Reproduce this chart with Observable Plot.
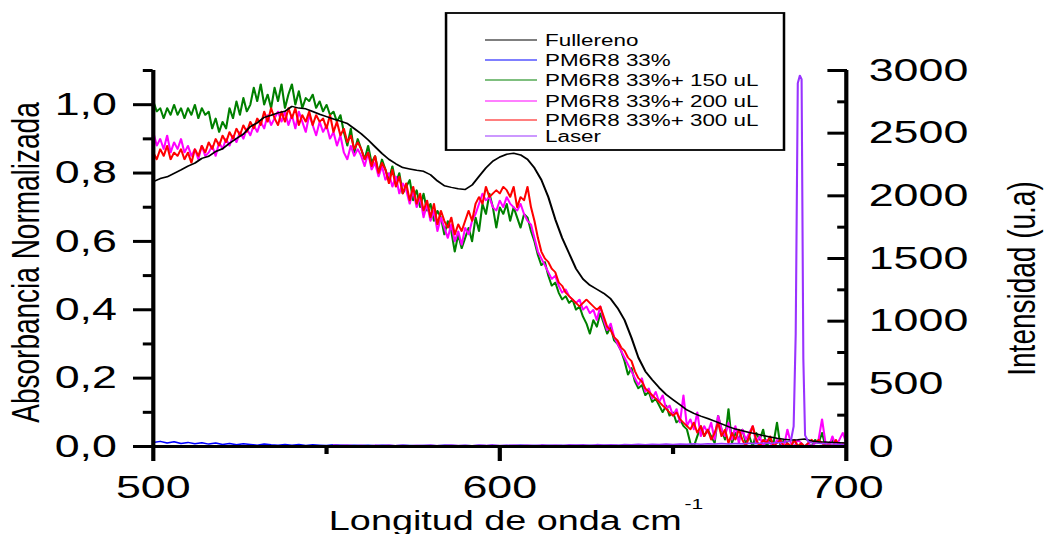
<!DOCTYPE html>
<html>
<head>
<meta charset="utf-8">
<script src="https://cdn.jsdelivr.net/npm/d3@7"></script>
<script src="https://cdn.jsdelivr.net/npm/@observablehq/plot@0.6"></script>
<style>
  html, body { margin: 0; padding: 0; background: #fff; overflow: hidden; }
  /* the figure is laid out narrow and widened horizontally, like the exported graph */
  #chart { width: 748px; height: 534px; transform: scaleX(1.4); transform-origin: 0 0; }
</style>
</head>
<body>
<div id="chart"></div>
<script>
// Wavelength grids (nm): 1 nm for the noisy absorbance spectra, 2 nm for the smooth ones
const wl1 = d3.range(500, 701);
const wl2 = d3.range(500, 701, 2);

// Fullereno (normalised absorbance), 500..700 step 2
const fullereno = [
  0.775,0.784,0.789,0.799,0.809,0.820,0.829,0.843,0.849,0.863,
  0.871,0.887,0.901,0.914,0.936,0.947,0.963,0.969,0.976,0.981,
  0.995,0.990,0.988,0.980,0.972,0.965,0.958,0.952,0.945,0.930,
  0.915,0.897,0.877,0.857,0.840,0.827,0.816,0.812,0.808,0.805,
  0.795,0.777,0.763,0.758,0.754,0.752,0.765,0.790,0.815,0.835,
  0.847,0.855,0.858,0.853,0.840,0.815,0.780,0.730,0.665,0.610,
  0.565,0.520,0.490,0.472,0.460,0.448,0.432,0.405,0.370,0.318,
  0.260,0.220,0.195,0.172,0.152,0.137,0.122,0.107,0.097,0.089,
  0.082,0.074,0.066,0.058,0.051,0.046,0.041,0.037,0.032,0.028,
  0.024,0.021,0.019,0.020,0.022,0.016,0.014,0.013,0.012,0.011,
  0.010
];

// PM6R8 33%, 500..700 step 2
const pm6r8 = [
  0.012,0.015,0.010,0.014,0.009,0.012,0.008,0.011,0.007,0.010,
  0.006,0.009,0.005,0.008,0.006,0.004,0.007,0.005,0.004,0.006,
  0.004,0.006,0.003,0.005,0.004,0.003,0.005,0.004,0.003,0.004,
  0.003,0.004,0.002,0.004,0.003,0.002,0.004,0.003,0.002,0.003,
  0.003,0.002,0.004,0.003,0.002,0.003,0.002,0.003,0.002,0.003,
  0.002,0.003,0.002,0.004,0.002,0.003,0.002,0.003,0.002,0.003,
  0.002,0.003,0.002,0.003,0.002,0.003,0.002,0.003,0.002,0.003,
  0.002,0.003,0.002,0.003,0.002,0.003,0.002,0.003,0.002,0.003,
  0.002,0.003,0.002,0.003,0.002,0.003,0.002,0.003,0.002,0.003,
  0.002,0.003,0.002,0.003,0.002,0.003,0.002,0.003,0.002,0.003,
  0.002
];

// PM6R8 33%+ 150 uL, 500..700 step 1
const pm150 = [
  1.01,0.98,0.99,0.96,0.99,0.97,1.00,0.97,0.99,0.96,
  0.99,0.97,1.00,0.96,0.99,0.97,0.98,0.93,0.96,0.92,
  0.95,0.93,0.99,0.96,1.01,0.97,1.02,0.98,1.00,1.05,
  1.01,1.06,1.00,1.03,0.99,1.05,1.01,1.06,0.99,1.03,
  1.06,1.00,1.04,0.99,1.02,1.01,1.03,0.99,1.01,0.98,
  1.00,0.97,0.98,0.95,0.97,0.92,0.88,0.93,0.86,0.90,
  0.87,0.84,0.88,0.83,0.85,0.80,0.84,0.81,0.78,0.82,
  0.77,0.80,0.74,0.76,0.78,0.72,0.75,0.70,0.74,0.69,
  0.71,0.66,0.69,0.67,0.62,0.66,0.63,0.57,0.62,0.58,
  0.61,0.64,0.60,0.67,0.63,0.71,0.68,0.74,0.70,0.64,
  0.70,0.68,0.71,0.66,0.70,0.67,0.64,0.68,0.67,0.63,
  0.60,0.56,0.53,0.54,0.50,0.47,0.48,0.45,0.43,0.44,
  0.42,0.43,0.40,0.41,0.38,0.36,0.33,0.37,0.35,0.39,
  0.36,0.33,0.35,0.31,0.30,0.28,0.25,0.21,0.23,0.19,
  0.17,0.18,0.15,0.16,0.13,0.14,0.12,0.10,0.12,0.09,
  0.10,0.07,0.08,0.06,0.05,0.01,0.00,0.03,0.06,0.03,
  0.05,0.03,0.01,0.09,0.05,0.02,0.11,0.01,0.04,0.02,
  0.05,0.01,0.03,0.00,0.04,0.02,0.05,0.00,0.02,0.01,
  0.07,0.00,0.02,0.01,0.00,0.02,0.00,0.01,0.00,0.01,
  0.00,0.02,0.01,0.04,0.00,0.01,0.02,0.00,0.01,0.00,
  0.01
];

// PM6R8 33%+ 200 uL, 500..700 step 1
const pm200 = [
  0.92,0.88,0.90,0.87,0.91,0.86,0.89,0.87,0.90,0.86,
  0.88,0.85,0.87,0.84,0.88,0.85,0.86,0.88,0.85,0.89,
  0.87,0.90,0.88,0.91,0.89,0.92,0.90,0.93,0.91,0.94,
  0.92,0.95,0.93,0.97,0.94,0.96,0.98,0.95,0.98,0.94,
  0.97,0.93,0.98,0.95,0.92,0.97,0.94,0.91,0.95,0.92,
  0.94,0.90,0.92,0.88,0.91,0.86,0.84,0.88,0.85,0.87,
  0.85,0.82,0.86,0.81,0.83,0.79,0.82,0.78,0.80,0.76,
  0.79,0.74,0.77,0.75,0.71,0.75,0.70,0.73,0.67,0.71,
  0.66,0.69,0.63,0.67,0.64,0.61,0.65,0.60,0.63,0.59,
  0.64,0.62,0.66,0.68,0.71,0.74,0.72,0.73,0.70,0.69,
  0.72,0.70,0.73,0.71,0.70,0.69,0.71,0.68,0.66,0.65,
  0.61,0.57,0.55,0.53,0.51,0.49,0.50,0.47,0.45,0.46,
  0.44,0.43,0.42,0.43,0.40,0.41,0.39,0.40,0.37,0.41,
  0.37,0.34,0.36,0.32,0.30,0.28,0.26,0.24,0.22,0.20,
  0.18,0.20,0.16,0.17,0.14,0.16,0.13,0.15,0.11,0.12,
  0.09,0.11,0.07,0.15,0.06,0.08,0.05,0.10,0.03,0.06,
  0.04,0.07,0.02,0.09,0.05,0.03,0.07,0.02,0.06,0.01,
  0.05,0.02,0.04,0.06,0.01,0.03,0.00,0.02,0.01,0.00,
  0.02,0.01,0.00,0.05,0.01,0.00,0.02,0.01,0.00,0.01,
  0.00,0.01,0.02,0.08,0.01,0.00,0.03,0.00,0.02,0.04,
  0.01
];

// PM6R8 33%+ 300 uL, 500..700 step 1
const pm300 = [
  0.86,0.84,0.87,0.85,0.88,0.84,0.86,0.85,0.87,0.84,
  0.86,0.83,0.87,0.85,0.88,0.86,0.89,0.87,0.90,0.88,
  0.91,0.89,0.92,0.90,0.93,0.91,0.94,0.92,0.95,0.93,
  0.96,0.94,0.98,0.95,0.99,0.96,0.94,0.98,0.95,0.99,
  0.96,0.99,0.94,0.97,0.95,0.98,0.94,0.97,0.95,0.96,
  0.93,0.97,0.92,0.95,0.91,0.93,0.89,0.91,0.87,0.89,
  0.87,0.84,0.86,0.82,0.85,0.80,0.83,0.81,0.77,0.81,
  0.76,0.79,0.74,0.77,0.72,0.76,0.71,0.74,0.69,0.72,
  0.67,0.71,0.65,0.69,0.66,0.64,0.67,0.62,0.65,0.63,
  0.66,0.69,0.66,0.71,0.73,0.71,0.76,0.73,0.74,0.75,
  0.74,0.76,0.75,0.73,0.76,0.70,0.73,0.72,0.76,0.70,
  0.66,0.61,0.57,0.55,0.54,0.52,0.51,0.48,0.47,0.45,
  0.44,0.43,0.42,0.41,0.42,0.43,0.42,0.41,0.40,0.41,
  0.38,0.35,0.34,0.32,0.31,0.29,0.28,0.26,0.25,0.22,
  0.20,0.19,0.17,0.16,0.15,0.14,0.13,0.12,0.11,0.10,
  0.09,0.10,0.08,0.07,0.06,0.05,0.07,0.04,0.06,0.03,
  0.05,0.02,0.04,0.07,0.03,0.05,0.01,0.04,0.02,0.05,
  0.02,0.00,0.03,0.06,0.02,0.00,0.02,0.01,0.03,0.00,
  0.01,0.02,0.00,0.01,0.00,0.02,0.00,0.01,0.00,0.01,
  0.02,0.01,0.02,0.01,0.00,0.01,0.00,0.02,0.00,0.01,
  0.00
];

// Laser emission (intensity, u.a.) on the right-hand axis
const laserWl = [
  552,554,556,558,560,562,564,566,568,570,572,574,576,578,580,582,584,586,588,590,
  592,594,596,598,600,602,604,606,608,610,612,614,616,618,620,622,624,626,628,630,
  632,634,636,638,640,642,644,646,648,650,652,654,656,658,660,662,664,666,668,670,
  672,674,676,678,680,682,684,684.8,685.4,686.0,686.6,687.1,687.6,688.1,689,690,
  692,694,696,698,700
];
const laser = [
  14,9,12,7,10,6,11,8,12,7,9,6,10,8,11,7,9,12,8,10,
  7,11,9,13,8,10,12,9,11,8,13,10,12,9,14,11,13,10,15,12,
  14,11,16,13,17,14,18,15,19,16,20,17,21,18,22,19,23,20,24,21,
  26,23,28,25,30,33,45,160,900,2900,2960,2930,700,90,40,30,
  25,22,20,18,16
];

// Axis ticks
const xMajor = [500, 600, 700];
const xMinor = [550, 650];
const yMajor = [0, 0.2, 0.4, 0.6, 0.8, 1.0];
const yMinor = [0.1, 0.3, 0.5, 0.7, 0.9, 1.1];
const rightMajor = [0, 500, 1000, 1500, 2000, 2500, 3000];
const rightMinor = [250, 750, 1250, 1750, 2250, 2750];

const seriesNames = ["Fullereno", "PM6R8 33%", "PM6R8 33%+ 150 uL", "PM6R8 33%+ 200 uL", "PM6R8 33%+ 300 uL", "Laser"];
const seriesColors = ["#000000", "#0000ff", "#008000", "#ff00ff", "#ff0000", "#9933ff"];

const K = 1.1 / 3000; // intensity -> absorbance units (right axis 0..3000 spans left axis 0..1.1)
const FONT = '"Liberation Sans", Arial, Helvetica, sans-serif';
const comma = d => d.toFixed(1).replace(".", ",");
const lw = 1.5;

const spectrum = (vals, wl, color) =>
  Plot.line(vals, {x: (d, i) => wl[i], y: d => d, stroke: color, strokeWidth: lw, clip: true});

const svgNode = Plot.plot({
  width: 748,
  height: 534,
  marginLeft: 109,
  marginRight: 144,
  marginTop: 70,
  marginBottom: 88,
  x: {domain: [500, 700]},
  y: {domain: [0, 1.1]},
  style: {fontFamily: FONT, background: "white", color: "black"},
  marks: [
    spectrum(pm6r8, wl2, seriesColors[1]),
    spectrum(pm150, wl1, seriesColors[2]),
    spectrum(pm200, wl1, seriesColors[3]),
    spectrum(pm300, wl1, seriesColors[4]),
    spectrum(fullereno, wl2, seriesColors[0]),
    Plot.line(laser, {x: (d, i) => laserWl[i], y: d => d * K, stroke: seriesColors[5], strokeWidth: lw, clip: true}),

    // axis lines
    Plot.ruleY([0], {strokeWidth: 3}),
    Plot.ruleX([500], {strokeWidth: 3}),
    Plot.ruleX([700], {strokeWidth: 3}),

    // bottom axis
    Plot.axisX(xMajor, {tickSize: 15, tickPadding: 14, strokeWidth: 3, fontSize: 32, label: null}),
    Plot.axisX(xMinor, {tickSize: 8, strokeWidth: 3, tickFormat: () => "", label: null}),

    // left axis (ticks outward)
    Plot.axisY(yMajor, {anchor: "left", tickSize: 14, tickPadding: 12, strokeWidth: 3, fontSize: 32, tickFormat: comma, label: null}),
    Plot.axisY(yMinor, {anchor: "left", tickSize: 7, strokeWidth: 3, tickFormat: () => "", label: null}),

    // right axis (ticks inward)
    Plot.axisY(rightMajor.map(v => v * K), {anchor: "right", tickSize: 14, dx: -14, strokeWidth: 3, tickFormat: () => "", label: null}),
    Plot.axisY(rightMinor.map(v => v * K), {anchor: "right", tickSize: 7, dx: -7, strokeWidth: 3, tickFormat: () => "", label: null}),
    Plot.axisY(rightMajor.map(v => v * K), {anchor: "right", tickSize: 0, tickPadding: 16, fontSize: 32, tickFormat: d => String(Math.round(d / K)), label: null}),

    // vertical axis titles
    Plot.text(["Absorbancia Normalizada"], {text: d => d, frameAnchor: "left", rotate: -90, dx: -82, dy: 4, fontSize: 28, textAnchor: "middle", lineAnchor: "bottom"}),
    Plot.text(["Intensidad (u.a)"], {text: d => d, frameAnchor: "right", rotate: -90, dx: 135, dy: 20, fontSize: 28, textAnchor: "middle", lineAnchor: "bottom"})
  ]
});

const svg = d3.select(svgNode);

// x-axis title with superscript
const xt = svg.append("text")
  .attr("x", 368.6).attr("y", 530)
  .attr("text-anchor", "middle")
  .attr("font-family", FONT).attr("font-size", 27).attr("fill", "black");
xt.append("tspan").text("Longitud de onda cm");
xt.append("tspan").attr("dx", 2).attr("dy", -21).attr("font-size", 15).text("-1");

// legend box
const lg = svg.append("g")
  .attr("font-family", FONT).attr("font-size", 16).attr("text-anchor", "start");
lg.append("rect")
  .attr("x", 318.6).attr("y", 13).attr("width", 241.4).attr("height", 137)
  .attr("fill", "white").attr("stroke", "black").attr("stroke-width", 1.8);
const rowY = [40, 60, 80, 101, 120, 136];
seriesNames.forEach((name, i) => {
  lg.append("line")
    .attr("x1", 346.4).attr("x2", 383.6).attr("y1", rowY[i]).attr("y2", rowY[i])
    .attr("stroke", seriesColors[i]).attr("stroke-width", 1.2);
  lg.append("text")
    .attr("x", 389.3).attr("y", rowY[i]).attr("dy", "0.35em")
    .attr("text-anchor", "start")
    .attr("fill", "black").text(name);
});

document.getElementById("chart").append(svgNode);
</script>
</body>
</html>
